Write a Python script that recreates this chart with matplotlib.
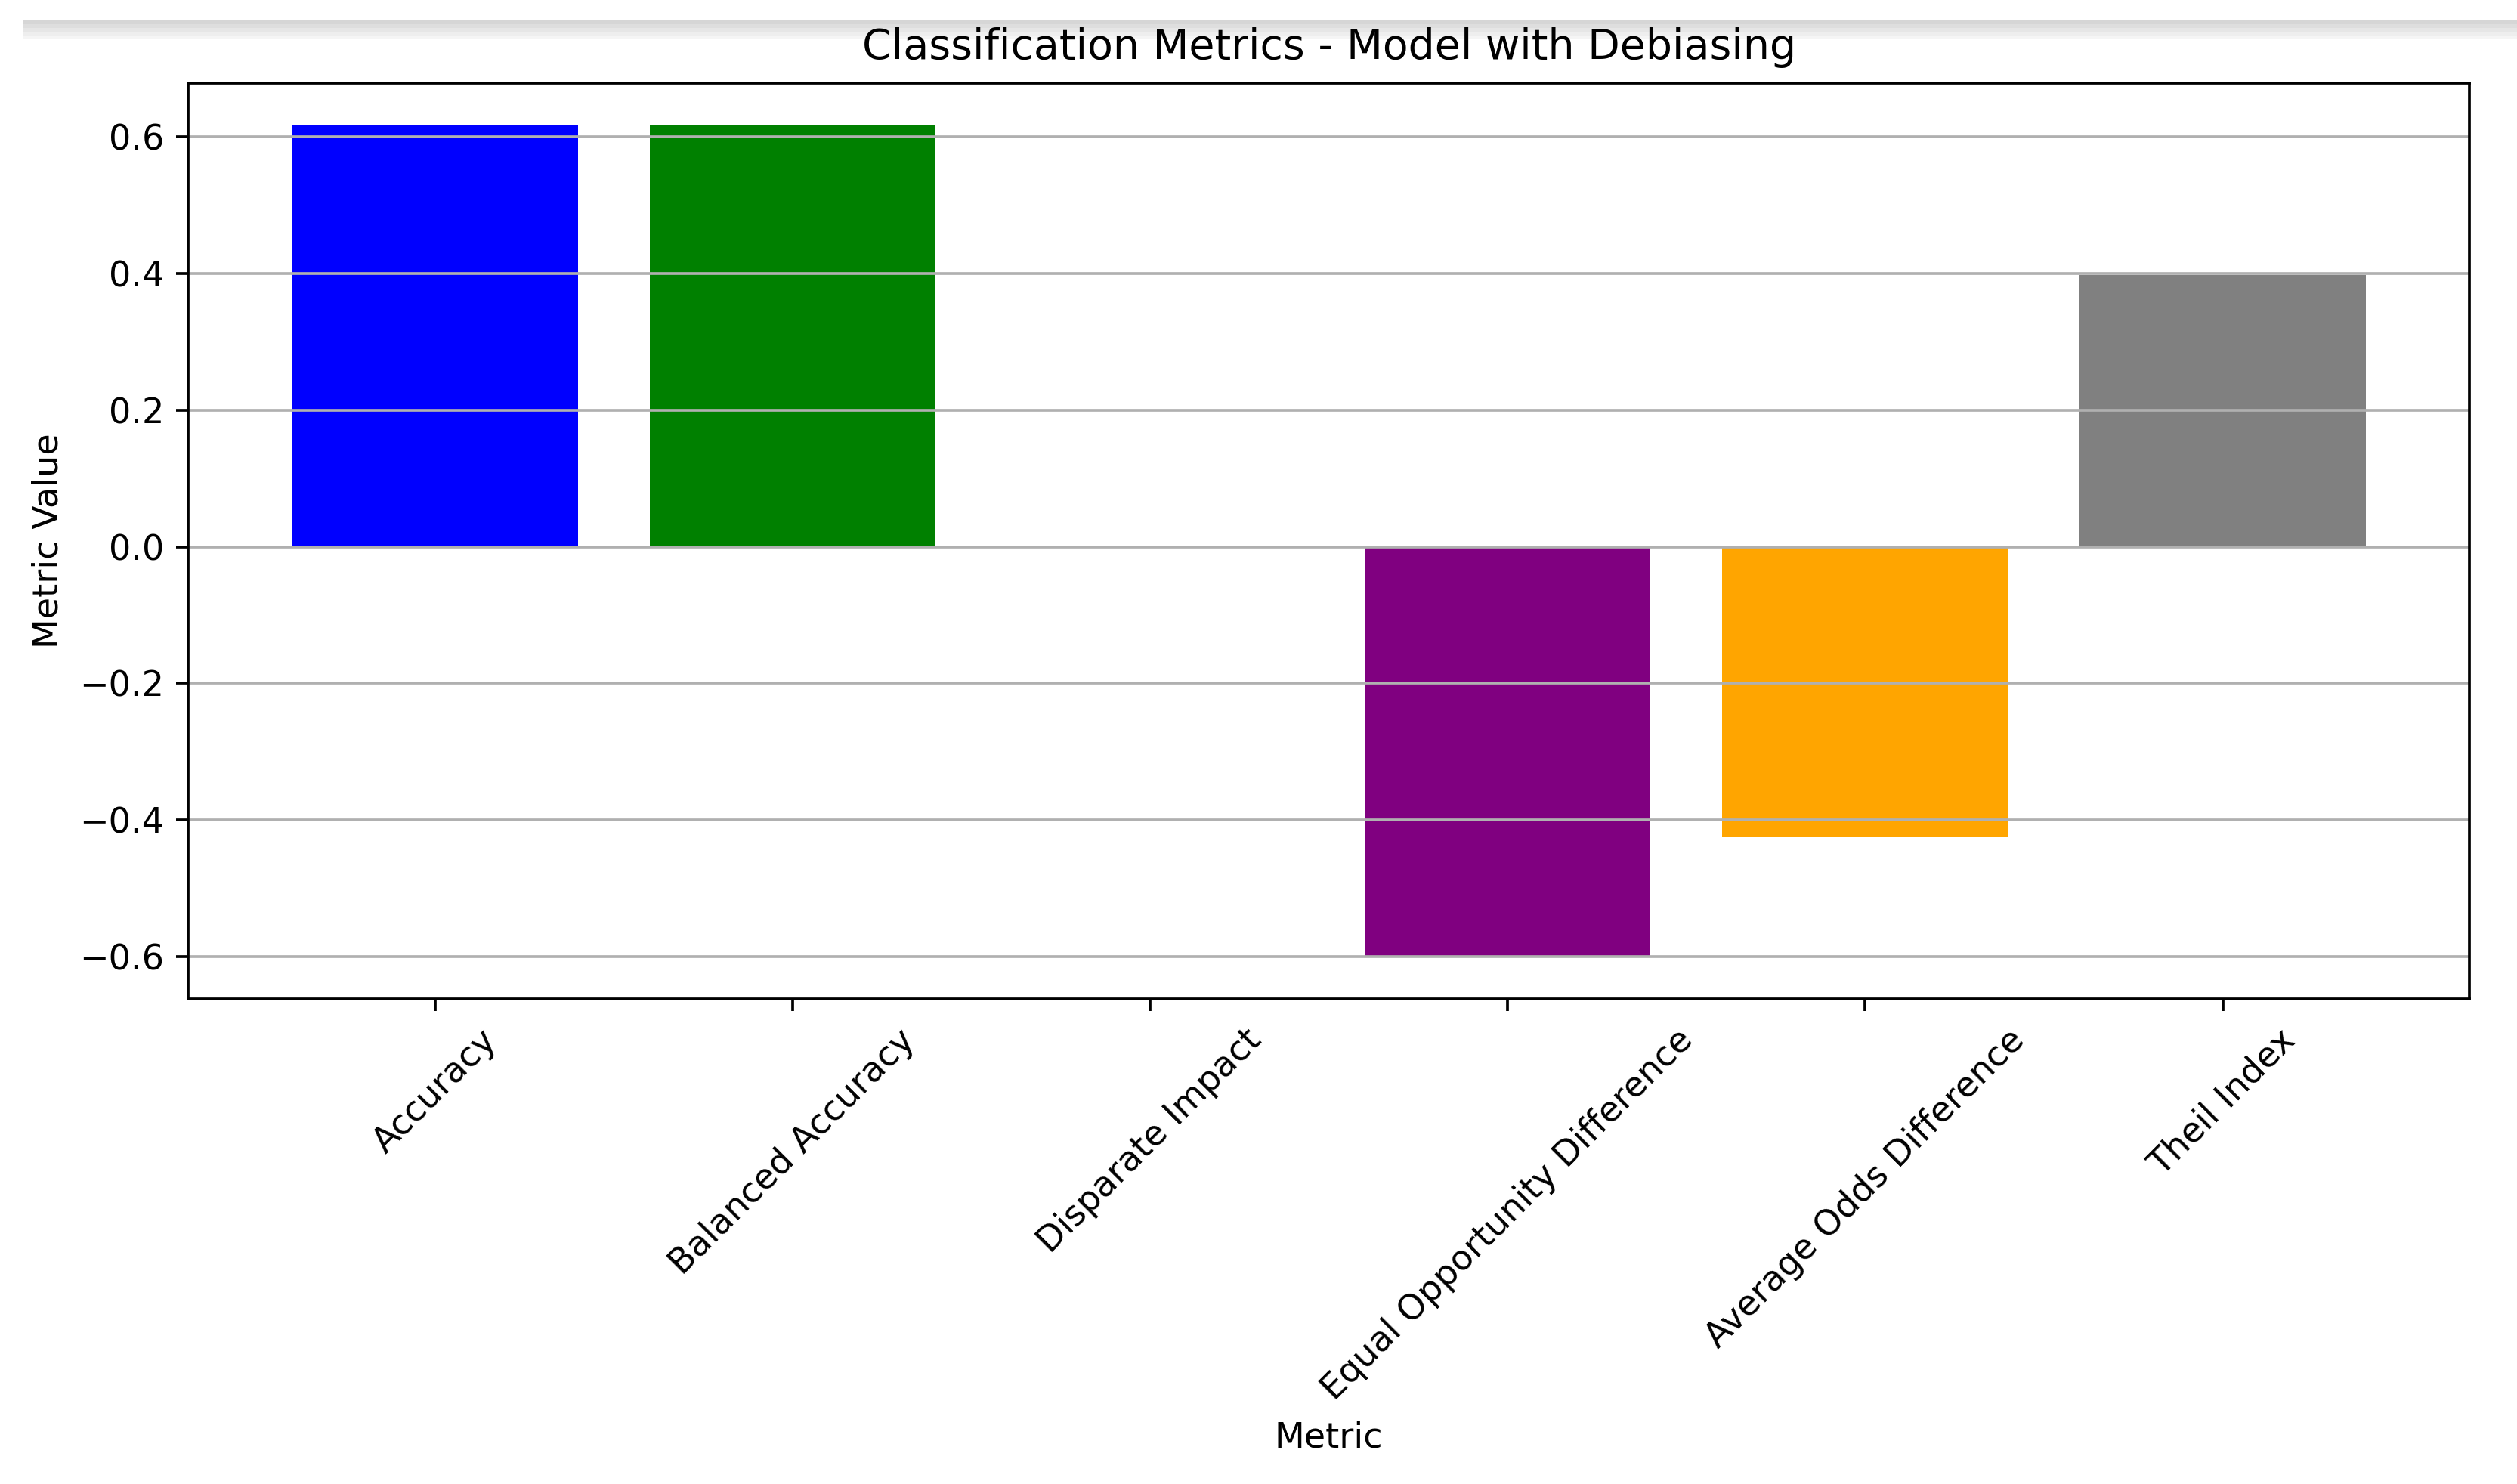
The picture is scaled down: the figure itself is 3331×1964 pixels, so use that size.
import matplotlib.pyplot as plt
from matplotlib.patches import Rectangle

metrics = ["Accuracy", "Balanced Accuracy", "Disparate Impact",
           "Equal Opportunity Difference", "Average Odds Difference", "Theil Index"]
values = [0.618, 0.617, 0.0, -0.601, -0.425, 0.398]
colors = ["blue", "green", "red", "purple", "orange", "gray"]

dpi = 332
fig = plt.figure(figsize=(3331 / dpi, 1964 / dpi), dpi=dpi)

# faint grey band at the top (screenshot edge)
for i, c in enumerate(["#d6d6d6", "#dedede", "#e6e6e6", "#eeeeee", "#f5f5f5"]):
    fig.add_artist(Rectangle((0.009, 1 - (27 + i * 5) / 1964 - 5 / 1964), 0.991, 5 / 1964,
                             transform=fig.transFigure, color=c, lw=0, zorder=-1))

ax = fig.add_axes([0.0748, 0.327, 0.9063, 0.617])
ax.bar(metrics, values, color=colors)
ax.set_title("Classification Metrics - Model with Debiasing", pad=7)
ax.set_xlabel("Metric")
ax.set_ylabel("Metric Value")
plt.xticks(rotation=45)
ax.grid(axis="y")

fig.savefig("out.png", dpi=dpi)
